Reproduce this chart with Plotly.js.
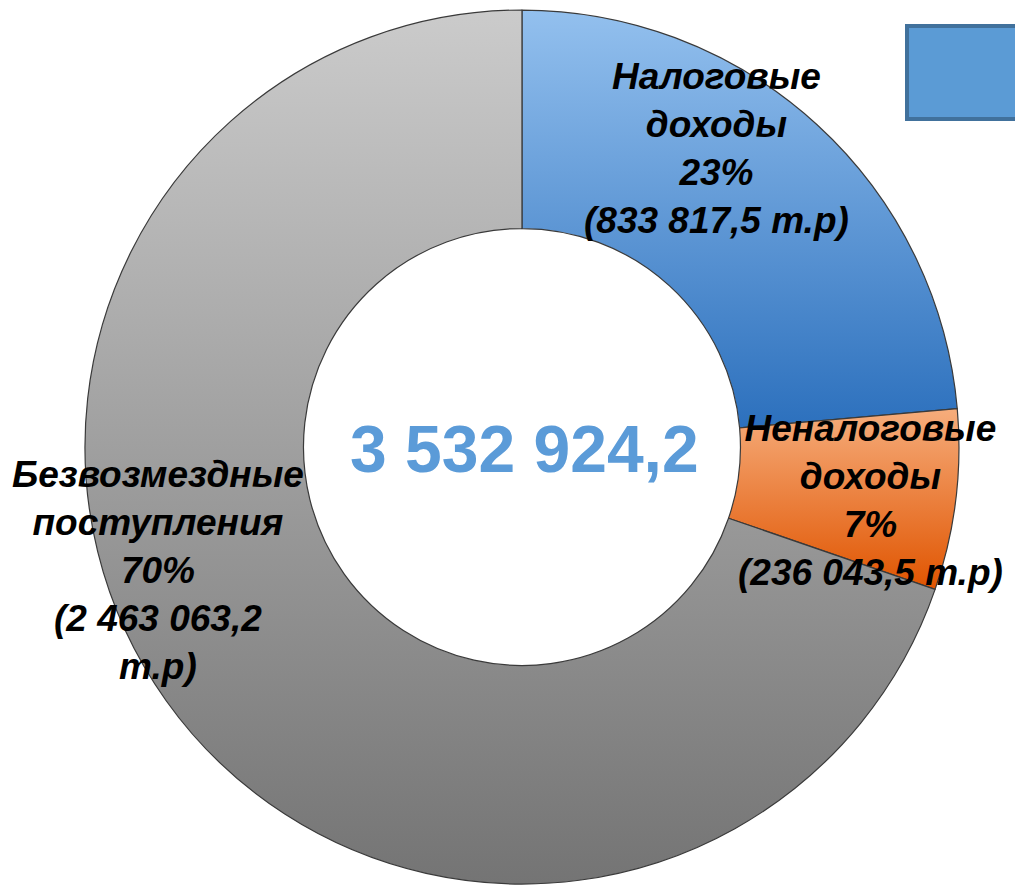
<!DOCTYPE html>
<html>
<head>
<meta charset="utf-8">
<script src="https://cdn.plot.ly/plotly-3.0.1.min.js"></script>
<style>html,body{margin:0;padding:0;background:#fff;}#chart{width:1015px;height:888px;}</style>
</head>
<body>
<div id="chart"></div>
<script>
// ---- data ----
const categories = ["Налоговые доходы", "Неналоговые доходы", "Безвозмездные поступления"];
const nameLines = ["Налоговые<br>доходы", "Неналоговые<br>доходы", "Безвозмездные<br>поступления"];
const values = [833817.5, 236043.5, 2463063.2];
const pctLabels = ["23%", "7%", "70%"];
const unitLabel = "т.р";
const valueBreaks = [" ", " ", "<br>"];

// ---- style ----
const baseColors = ["#4d8fd6", "#e8782e", "#9e9e9e"];
const gradStops = [
  ["#93c0ee", "#2c70bd"],
  ["#f6ad7c", "#e05400"],
  ["#cbcbcb", "#747474"]
];
const labelPos = [
  {x: 0.706, y: 0.833},
  {x: 0.858, y: 0.436},
  {x: 0.156, y: 0.358}
];

function fmt(v) {
  const parts = v.toFixed(1).split(".");
  const intPart = parts[0].replace(/\B(?=(\d{3})+(?!\d))/g, " ");
  return intPart + "," + parts[1];
}
const total = values.reduce((a, b) => a + b, 0);

const labelFont = {family: "Liberation Sans, Arial, sans-serif", size: 37, color: "#000", weight: 700, style: "italic"};

const annotations = categories.map((c, i) => ({
  xref: "paper", yref: "paper",
  x: labelPos[i].x, y: labelPos[i].y,
  xanchor: "center", yanchor: "middle",
  showarrow: false,
  align: "center",
  text: nameLines[i] + "<br>" + pctLabels[i] + "<br>(" + fmt(values[i]) + valueBreaks[i] + unitLabel + ")",
  font: labelFont
}));

annotations.push({
  xref: "paper", yref: "paper",
  x: 0.517, y: 0.494,
  xanchor: "center", yanchor: "middle",
  showarrow: false,
  text: fmt(total),
  font: {family: "Liberation Sans, Arial, sans-serif", size: 66, color: "#5b9bd8", weight: 700}
});

const trace = {
  type: "pie",
  labels: categories,
  values: values,
  sort: false,
  direction: "clockwise",
  rotation: 0,
  hole: 0.5,
  textinfo: "none",
  hoverinfo: "none",
  domain: {x: [0.0837, 0.9448], y: [0.0045, 0.9887]},
  marker: {colors: baseColors, line: {color: "#3a3a3a", width: 1.2}},
  showlegend: false
};

const layout = {
  width: 1015, height: 888,
  margin: {l: 0, r: 0, t: 0, b: 0},
  paper_bgcolor: "#ffffff",
  showlegend: false,
  annotations: annotations,
  shapes: [{
    type: "rect", xref: "paper", yref: "paper",
    x0: 0.8936, x1: 1.01, y0: 0.8660, y1: 0.9707,
    fillcolor: "#5b9bd5", line: {color: "#41719c", width: 4}
  }]
};

Plotly.newPlot("chart", [trace], layout, {displayModeBar: false, staticPlot: true}).then(() => {
  const svg = document.querySelector("#chart .main-svg");
  const ns = "http://www.w3.org/2000/svg";
  let defs = svg.querySelector("defs");
  if (!defs) { defs = document.createElementNS(ns, "defs"); svg.insertBefore(defs, svg.firstChild); }
  gradStops.forEach((s, i) => {
    const g = document.createElementNS(ns, "linearGradient");
    g.setAttribute("id", "sliceGrad" + i);
    g.setAttribute("x1", "0"); g.setAttribute("y1", "0");
    g.setAttribute("x2", "0"); g.setAttribute("y2", "1");
    [[0, s[0]], [1, s[1]]].forEach(([o, c]) => {
      const st = document.createElementNS(ns, "stop");
      st.setAttribute("offset", o); st.setAttribute("stop-color", c);
      g.appendChild(st);
    });
    defs.appendChild(g);
  });
  document.querySelectorAll("#chart g.slice path.surface").forEach((p, i) => {
    p.style.fill = "url(#sliceGrad" + i + ")";
  });
});
</script>
</body>
</html>
